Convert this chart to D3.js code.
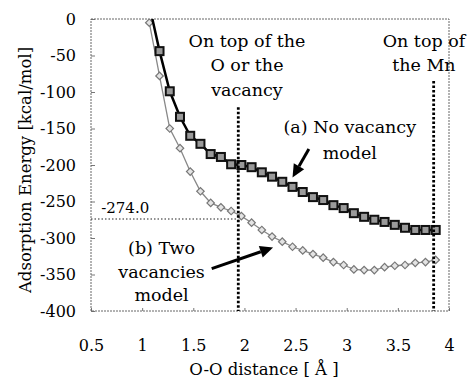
<!DOCTYPE html>
<html>
<head>
<meta charset="utf-8">
<script src="https://cdnjs.cloudflare.com/ajax/libs/d3/7.8.5/d3.min.js"></script>
<style>
  body { margin: 0; background: #fff; }
</style>
</head>
<body>
<div id="graphic"></div>
<script>
// O-O distance [A]
var distance = [1.07, 1.17, 1.27, 1.37, 1.47, 1.57, 1.67, 1.77, 1.87, 1.97,
                2.07, 2.17, 2.27, 2.37, 2.47, 2.57, 2.67, 2.77, 2.87, 2.97,
                3.07, 3.17, 3.27, 3.37, 3.47, 3.57, 3.67, 3.77, 3.87];
// (a) No vacancy model
var noVacancy = [19, -44, -99, -134, -160, -171, -185, -189, -199, -200,
                 -203, -210, -216, -223, -230, -237, -244, -248, -255, -259,
                 -266, -271, -275, -278, -282, -286, -289, -289, -289];
// (b) Two vacancies model
var twoVacancies = [-5, -78, -150, -177, -209, -236, -252, -258, -263, -270,
                    -279, -289, -298, -305, -312, -317, -322, -327, -333, -337,
                    -343, -344, -344, -340, -338, -337, -334, -333, -330];
var xTicks = [0.5, 1, 1.5, 2, 2.5, 3, 3.5, 4];
var yTicks = [0, -50, -100, -150, -200, -250, -300, -350, -400];
var oLineX = 1.94, mnLineX = 3.85, markEnergy = -274.0;

(function() {
  var margin = { top: 19, left: 91, right: 18, bottom: 70 },
      width = 467 - margin.left - margin.right,
      height = 381 - margin.top - margin.bottom;
  var serif = "DejaVu Serif";

  var svg = d3.select("#graphic").append("svg")
      .attr("width", 467).attr("height", 381)
      .attr("font-family", serif)
    .append("g")
      .attr("transform", "translate(" + margin.left + "," + margin.top + ")");

  var x = d3.scaleLinear().domain([0.5, 4]).range([0, width]);
  var y = d3.scaleLinear().domain([-400, 0]).range([height, 0]);

  svg.append("clipPath").attr("id", "plotClip")
    .append("rect").attr("width", width).attr("height", height);

  /*** AXES ***/
  var yAxis = svg.append("g")
    .call(d3.axisLeft(y).tickValues(yTicks).tickSize(-4).tickPadding(15)
      .tickFormat(function(d) { return String(d); }));
  var xAxis = svg.append("g")
    .attr("transform", "translate(0," + height + ")")
    .call(d3.axisBottom(x).tickValues(xTicks).tickSize(-3).tickPadding(29)
      .tickFormat(function(d) { return String(d); }));
  [xAxis, yAxis].forEach(function(a) {
    a.attr("font-family", serif).attr("font-size", 16);
    a.select(".domain").remove();
    a.selectAll(".tick line").attr("stroke", "#777");
    a.selectAll(".tick text").attr("fill", "#000");
  });

  // frame
  svg.append("rect")
    .attr("width", width).attr("height", height)
    .attr("fill", "none").attr("stroke", "#666")
    .attr("stroke-width", 1).attr("stroke-dasharray", "2,1");

  /*** AXIS TITLES ***/
  svg.append("text")
    .attr("transform", "rotate(-90)")
    .attr("x", -151).attr("y", -60)
    .attr("text-anchor", "middle").attr("font-size", 16.5)
    .text("Adsorption Energy [kcal/mol]");
  svg.append("text")
    .attr("x", 173).attr("y", height + 64)
    .attr("text-anchor", "middle").attr("font-size", 16.5)
    .text("O-O distance [ Å ]");

  var plot = svg.append("g").attr("clip-path", "url(#plotClip)");
  var pts = function(vals) {
    return distance.map(function(d, i) { return { x: d, y: vals[i] }; });
  };
  var line = d3.line().x(function(d) { return x(d.x); }).y(function(d) { return y(d.y); });

  /*** (b) TWO VACANCIES ***/
  plot.append("path").attr("d", line(pts(twoVacancies)))
    .attr("fill", "none").attr("stroke", "#888").attr("stroke-width", 1.3);
  plot.selectAll(".diamond").data(pts(twoVacancies)).enter().append("path")
    .attr("class", "diamond")
    .attr("d", d3.symbol(d3.symbolSquare, 28))
    .attr("transform", function(d) { return "translate(" + x(d.x) + "," + y(d.y) + ") rotate(45)"; })
    .attr("fill", "#e4e4e4").attr("stroke", "#777").attr("stroke-width", 1.2);

  /*** (a) NO VACANCY ***/
  plot.append("path").attr("d", line(pts(noVacancy)))
    .attr("fill", "none").attr("stroke", "#000").attr("stroke-width", 2.5);
  plot.selectAll(".square").data(pts(noVacancy)).enter().append("rect")
    .attr("class", "square")
    .attr("x", function(d) { return x(d.x) - 4; })
    .attr("y", function(d) { return y(d.y) - 4; })
    .attr("width", 8).attr("height", 8)
    .attr("fill", "#9a9a9a").attr("stroke", "#111").attr("stroke-width", 2);

  /*** REFERENCE LINES ***/
  svg.append("line")
    .attr("x1", x(0.5)).attr("x2", x(oLineX))
    .attr("y1", y(markEnergy)).attr("y2", y(markEnergy))
    .attr("stroke", "#222").attr("stroke-width", 1.2).attr("stroke-dasharray", "1.5,2");
  svg.append("line")
    .attr("x1", x(oLineX)).attr("x2", x(oLineX))
    .attr("y1", y(-121)).attr("y2", y(-400))
    .attr("stroke", "#000").attr("stroke-width", 2.8).attr("stroke-dasharray", "2.5,2");
  svg.append("line")
    .attr("x1", x(mnLineX)).attr("x2", x(mnLineX))
    .attr("y1", y(-85)).attr("y2", y(-400))
    .attr("stroke", "#000").attr("stroke-width", 2.8).attr("stroke-dasharray", "2.5,2");

  /*** ANNOTATIONS ***/
  function label(lines, cx, cy, spacing) {
    var t = svg.append("text")
      .attr("text-anchor", "middle").attr("font-size", 17.5);
    lines.forEach(function(s, i) {
      t.append("tspan").attr("x", x(cx)).attr("y", y(cy) + i * spacing).text(s);
    });
  }
  label(["On top of the", "O or the", "vacancy"], 2.025, -38, 24.5);
  label(["On top of", "the Mn"], 3.755, -38, 24.5);
  label(["(a) No vacancy", "model"], 3.03, -156, 26);
  label(["(b) Two", "vacancies", "model"], 1.19, -322, 23.5);
  svg.append("text").attr("x", x(0.6)).attr("y", y(-266))
    .attr("font-size", 15).text(markEnergy.toFixed(1));

  function arrow(x1, y1, x2, y2) {
    var px1 = x(x1), py1 = y(y1), px2 = x(x2), py2 = y(y2);
    var ang = Math.atan2(py2 - py1, px2 - px1), len = 13, w = 6;
    var bx = px2 - len * Math.cos(ang), by = py2 - len * Math.sin(ang);
    svg.append("line").attr("x1", px1).attr("y1", py1).attr("x2", bx).attr("y2", by)
      .attr("stroke", "#000").attr("stroke-width", 3);
    svg.append("path")
      .attr("d", "M" + px2 + "," + py2 +
        "L" + (bx + w * Math.sin(ang)) + "," + (by - w * Math.cos(ang)) +
        "L" + (bx - w * Math.sin(ang)) + "," + (by + w * Math.cos(ang)) + "Z")
      .attr("fill", "#000");
  }
  arrow(2.63, -178, 2.47, -217);
  arrow(1.68, -342, 2.28, -313);
})();
</script>
</body>
</html>
